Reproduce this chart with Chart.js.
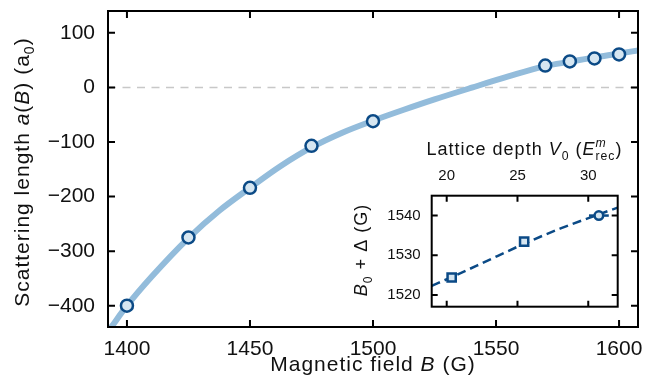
<!DOCTYPE html>
<html>
<head>
<meta charset="utf-8">
<script src="https://cdn.jsdelivr.net/npm/chart.js@4.4.1/dist/chart.umd.min.js"></script>
<style>
  html, body { margin: 0; padding: 0; background: #fff; }
  #wrap { position: relative; width: 655px; height: 388px; }
  #main { position: absolute; left: 0; top: 0; }
  #inset { position: absolute; left: 330px; top: 120px; }
</style>
</head>
<body>
<div id="wrap">
  <canvas id="main" width="655" height="388"></canvas>
  <canvas id="inset" width="310" height="200"></canvas>
</div>
<script>
// --- data ---
// main panel: measured points
const fieldB = [1400, 1425, 1450, 1475, 1500, 1570, 1580, 1590, 1600];
const scatLen = [-400, -275, -184, -107, -62, 40, 47.5, 53, 60.5];
// main panel: fitted curve
const curveB = [1393.5, 1400, 1410, 1425, 1437.5, 1450, 1462.5, 1475, 1487.5, 1500, 1512.5, 1525, 1540.5, 1555, 1570, 1580, 1590, 1600, 1608];
const curveA = [-440, -400, -347, -276, -226, -184, -144, -110, -83, -61, -41, -22, 0, 20, 39, 47, 55, 62, 68];
const xTicks = [1400, 1450, 1500, 1550, 1600];
const yTicks = [-400, -300, -200, -100, 0, 100];
const yTickLabels = ['\u2212400', '\u2212300', '\u2212200', '\u2212100', '0', '100'];

// inset: resonance position vs lattice depth
const insetV = [20.35, 25.47, 30.75];
const insetB = [1524.4, 1533.45, 1540];
const insetStyle = ['rect', 'rect', 'circle'];
const insetXErr = [0, 0, 0.7];
const fitV = [18.94, 20.35, 22.5, 25.47, 28, 30.75, 32.08];
const fitB = [1522.3, 1524.5, 1528.0, 1532.9, 1536.7, 1540.3, 1542.0];
const insetXTicks = [20, 25, 30];
const insetYTicks = [1520, 1530, 1540];

const FONT = '"Liberation Sans", Arial, Helvetica, sans-serif';
const DARK = '#0b4a86';
const LIGHT = '#d6e6f1';
const CURVE = '#93bcdb';
const INK = '#111';

// rich text: parts = [{t, i (italic), sub, sup, noAdv}]
function drawRich(ctx, parts, x, y, size, rot, spacing) {
  ctx.save();
  ctx.translate(x, y);
  if (rot) ctx.rotate(rot);
  ctx.fillStyle = INK;
  ctx.textBaseline = 'alphabetic';
  ctx.textAlign = 'left';
  ctx.letterSpacing = spacing || '0px';
  const fontOf = p => (p.i ? 'italic ' : '') + ((p.sub || p.sup) ? size * 0.68 : size) + 'px ' + FONT;
  let total = 0;
  parts.forEach(p => {
    ctx.font = fontOf(p);
    p.w = ctx.measureText(p.t).width;
    if (!p.noAdv) total += p.w;
  });
  let cx = -total / 2;
  parts.forEach(p => {
    ctx.font = fontOf(p);
    let dy = 0;
    if (p.sub) dy = size * 0.26;
    if (p.sup) dy = -size * 0.42;
    ctx.fillText(p.t, cx, dy);
    if (!p.noAdv) cx += p.w;
  });
  ctx.restore();
}

// box + inward ticks on all four sides
function frameTicks(len) {
  return {
    id: 'frameTicks',
    afterDatasetsDraw(chart) {
      const { ctx, chartArea: a, scales } = chart;
      ctx.save();
      ctx.strokeStyle = '#000';
      ctx.lineWidth = 2;
      ctx.beginPath();
      scales.x.ticks.forEach(t => {
        const px = scales.x.getPixelForValue(t.value);
        ctx.moveTo(px, a.top); ctx.lineTo(px, a.top + len);
        ctx.moveTo(px, a.bottom); ctx.lineTo(px, a.bottom - len);
      });
      scales.y.ticks.forEach(t => {
        const py = scales.y.getPixelForValue(t.value);
        ctx.moveTo(a.left, py); ctx.lineTo(a.left + len, py);
        ctx.moveTo(a.right, py); ctx.lineTo(a.right - len, py);
      });
      ctx.stroke();
      ctx.strokeRect(a.left, a.top, a.right - a.left, a.bottom - a.top);
      ctx.restore();
    }
  };
}

const zeroLine = {
  id: 'zeroLine',
  beforeDatasetsDraw(chart) {
    const { ctx, chartArea: a, scales } = chart;
    const py = scales.y.getPixelForValue(0);
    ctx.save();
    ctx.strokeStyle = '#c8c8c8';
    ctx.lineWidth = 1.5;
    ctx.setLineDash([8, 6.5]);
    ctx.beginPath();
    ctx.moveTo(a.left, py);
    ctx.lineTo(a.right, py);
    ctx.stroke();
    ctx.restore();
  }
};

const mainTitles = {
  id: 'mainTitles',
  afterDraw(chart) {
    const ctx = chart.ctx;
    drawRich(ctx, [{ t: 'Magnetic field ' }, { t: 'B', i: true }, { t: ' (G)' }], 373, 371, 21, 0, '1px');
    drawRich(ctx, [
      { t: 'Scattering length ' }, { t: 'a', i: true }, { t: '(' }, { t: 'B', i: true },
      { t: ') (a' }, { t: '0', sub: true }, { t: ')' }
    ], 29, 172, 21, -Math.PI / 2, '1px');
  }
};

// fixed axis sizes, no extra label padding from Chart.js
function fixX(h) {
  return s => { s.height = h; s.paddingLeft = 0; s.paddingRight = 0; };
}
function fixY(w) {
  return s => { s.width = w; s.paddingTop = 0; s.paddingBottom = 0; };
}

const tickFont = { family: FONT, size: 21 };

new Chart(document.getElementById('main'), {
  data: {
    datasets: [
      {
        type: 'scatter',
        order: 0,
        data: fieldB.map((b, i) => ({ x: b, y: scatLen[i] })),
        pointRadius: 6,
        pointBorderWidth: 2.5,
        pointBackgroundColor: LIGHT,
        pointBorderColor: DARK
      },
      {
        type: 'line',
        order: 1,
        data: curveB.map((b, i) => ({ x: b, y: curveA[i] })),
        borderColor: CURVE,
        borderWidth: 6,
        pointRadius: 0,
        cubicInterpolationMode: 'monotone',
        fill: false
      }
    ]
  },
  options: {
    responsive: false,
    animation: false,
    layout: { padding: { left: 0, top: 11, right: 17, bottom: 0 } },
    plugins: { legend: { display: false }, tooltip: { enabled: false } },
    scales: {
      x: {
        type: 'linear',
        min: 1392.3,
        max: 1607.7,
        afterBuildTicks: s => { s.ticks = xTicks.map(v => ({ value: v })); },
        afterFit: fixX(61),
        ticks: { font: tickFont, color: INK, padding: 10, maxRotation: 0, autoSkip: false, callback: v => String(v) },
        grid: { display: true, drawOnChartArea: false, drawTicks: false },
        border: { display: false }
      },
      y: {
        type: 'linear',
        min: -439,
        max: 140,
        afterBuildTicks: s => { s.ticks = yTicks.map(v => ({ value: v })); },
        afterFit: fixY(108),
        ticks: {
          font: tickFont, color: INK, padding: 13,
          callback: v => yTickLabels[yTicks.indexOf(v)]
        },
        grid: { display: true, drawOnChartArea: false, drawTicks: false },
        border: { display: false }
      }
    }
  },
  plugins: [zeroLine, frameTicks(7), mainTitles]
});

// inset
const insetErr = {
  id: 'insetErr',
  beforeDatasetsDraw(chart) {
    const { ctx, scales } = chart;
    ctx.save();
    ctx.strokeStyle = DARK;
    ctx.lineWidth = 2.5;
    ctx.beginPath();
    insetV.forEach((v, i) => {
      if (!insetXErr[i]) return;
      const py = scales.y.getPixelForValue(insetB[i]);
      ctx.moveTo(scales.x.getPixelForValue(v - insetXErr[i]), py);
      ctx.lineTo(scales.x.getPixelForValue(v + insetXErr[i]), py);
    });
    ctx.stroke();
    ctx.restore();
  }
};

const insetTitles = {
  id: 'insetTitles',
  afterDraw(chart) {
    const ctx = chart.ctx;
    drawRich(ctx, [
      { t: 'Lattice depth ' }, { t: 'V', i: true }, { t: '0', sub: true }, { t: ' (' },
      { t: 'E', i: true }, { t: 'm', i: true, sup: true, noAdv: true }, { t: 'rec', sub: true }, { t: ')' }
    ], 194.5, 35, 18, 0, '1px');
    drawRich(ctx, [
      { t: 'B', i: true }, { t: '0', sub: true }, { t: ' + \u0394 (G)' }
    ], 37, 130, 18, -Math.PI / 2, '1px');
  }
};

const insetFont = { family: FONT, size: 15 };

new Chart(document.getElementById('inset'), {
  data: {
    datasets: [
      {
        type: 'scatter',
        order: 0,
        data: insetV.map((v, i) => ({ x: v, y: insetB[i] })),
        pointStyle: insetStyle,
        pointRadius: [5.8, 5.8, 4.3],
        pointBorderWidth: 2.5,
        pointBackgroundColor: LIGHT,
        pointBorderColor: DARK
      },
      {
        type: 'line',
        order: 1,
        data: fitV.map((v, i) => ({ x: v, y: fitB[i] })),
        borderColor: DARK,
        borderWidth: 2.5,
        borderDash: [9, 5],
        pointRadius: 0,
        cubicInterpolationMode: 'monotone',
        fill: false
      }
    ]
  },
  options: {
    responsive: false,
    animation: false,
    layout: { padding: { left: 0, top: 0, right: 22.3, bottom: 13.3 } },
    plugins: { legend: { display: false }, tooltip: { enabled: false } },
    scales: {
      x: {
        type: 'linear',
        position: 'top',
        min: 18.94,
        max: 32.08,
        afterBuildTicks: s => { s.ticks = insetXTicks.map(v => ({ value: v })); },
        afterFit: fixX(75.7),
        ticks: { font: insetFont, color: INK, padding: 11, maxRotation: 0, autoSkip: false, callback: v => String(v) },
        grid: { display: true, drawOnChartArea: false, drawTicks: false },
        border: { display: false }
      },
      y: {
        type: 'linear',
        min: 1517.05,
        max: 1545.0,
        afterBuildTicks: s => { s.ticks = insetYTicks.map(v => ({ value: v })); },
        afterFit: fixY(101.7),
        ticks: { font: insetFont, color: INK, padding: 11, callback: v => String(v) },
        grid: { display: true, drawOnChartArea: false, drawTicks: false },
        border: { display: false }
      }
    }
  },
  plugins: [insetErr, frameTicks(6), insetTitles]
});
</script>
</body>
</html>
